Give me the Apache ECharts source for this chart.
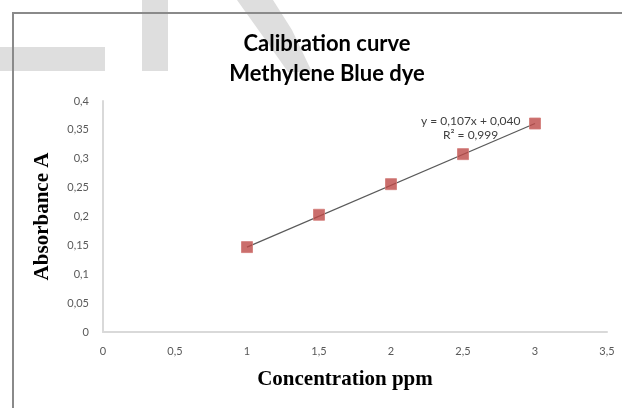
<!DOCTYPE html>
<html>
<head>
<meta charset="utf-8">
<script src="https://cdn.jsdelivr.net/npm/echarts@6/dist/echarts.min.js"></script>
<style>html,body{margin:0;padding:0;background:#fff}#c{width:622px;height:408px}</style>
</head>
<body>
<div id="c"></div>
<script>
var concentration = [1, 1.5, 2, 2.5, 3];
var absorbance = [0.147, 0.203, 0.256, 0.308, 0.361];
var trendX = [1, 3];
var trendY = [0.147, 0.361];
var equationText = 'y = 0,107x + 0,040';
var r2Text = 'R² = 0,999';

var chart = echarts.init(document.getElementById('c'));
var fmt = function (v) { return String(+v.toFixed(2)).replace('.', ','); };
chart.setOption({
  animation: false,
  backgroundColor: '#fff',
  title: {
    text: 'Calibration curve\nMethylene Blue dye',
    left: 322, top: 24, textAlign: 'center',
    textStyle: { fontFamily: 'Lato', fontWeight: 'bold', fontSize: 22, lineHeight: 30, color: '#000' }
  },
  grid: { left: 103, right: 15, top: 101, bottom: 76 },
  xAxis: {
    type: 'value', min: 0, max: 3.5, interval: 0.5,
    name: 'Concentration ppm', nameLocation: 'middle', nameGap: 37,
    nameTextStyle: { fontFamily: 'Liberation Serif', fontWeight: 'bold', fontSize: 21, color: '#000', padding: [0, 20, 0, 0] },
    axisLine: { lineStyle: { color: '#d9d9d9', width: 2 } },
    axisTick: { show: false },
    splitLine: { show: false },
    axisLabel: { margin: 14, fontFamily: 'Lato', fontSize: 11, color: '#595959', formatter: fmt }
  },
  yAxis: {
    type: 'value', min: 0, max: 0.4, interval: 0.05,
    name: 'Absorbance A', nameLocation: 'middle', nameGap: 50,
    nameTextStyle: { fontFamily: 'Liberation Serif', fontWeight: 'bold', fontSize: 21, color: '#000' },
    axisLine: { show: true, lineStyle: { color: '#d9d9d9', width: 2 } },
    axisTick: { show: false },
    splitLine: { show: false },
    axisLabel: { margin: 14, fontFamily: 'Lato', fontSize: 11, color: '#595959', formatter: fmt }
  },
  graphic: [
    { type: 'rect', z: -10, shape: { x: 0, y: 47, width: 105, height: 24 }, style: { fill: '#dedede' } },
    { type: 'rect', z: -10, shape: { x: 142, y: 0, width: 26, height: 71 }, style: { fill: '#dedede' } },
    { type: 'polygon', z: -10, shape: { points: [[237, 0], [273, 0], [292, 30], [312, 72], [288, 72], [262, 35]] }, style: { fill: '#dedede' } },
    { type: 'polyline', z: 10, shape: { points: [[13, 408], [13, 13], [622, 13]] }, style: { stroke: '#8a8a8a', lineWidth: 2, fill: null } },
    { type: 'text', left: 421, top: 115, z: 10, style: { text: equationText, font: '12px Lato', fill: '#404040' } },
    { type: 'text', left: 443, top: 129, z: 10, style: { text: r2Text, font: '12px Lato', fill: '#404040' } }
  ],
  series: [
    {
      type: 'line', data: trendX.map(function (x, i) { return [x, trendY[i]]; }),
      symbol: 'none', lineStyle: { color: '#5a5a5a', width: 1.2 }, z: 2
    },
    {
      type: 'scatter', data: concentration.map(function (x, i) { return [x, absorbance[i]]; }),
      symbol: 'rect', symbolSize: 11,
      itemStyle: { color: '#bd4a47', borderColor: '#d27a77', borderWidth: 1 }, z: 3
    }
  ]
});
</script>
</body>
</html>
